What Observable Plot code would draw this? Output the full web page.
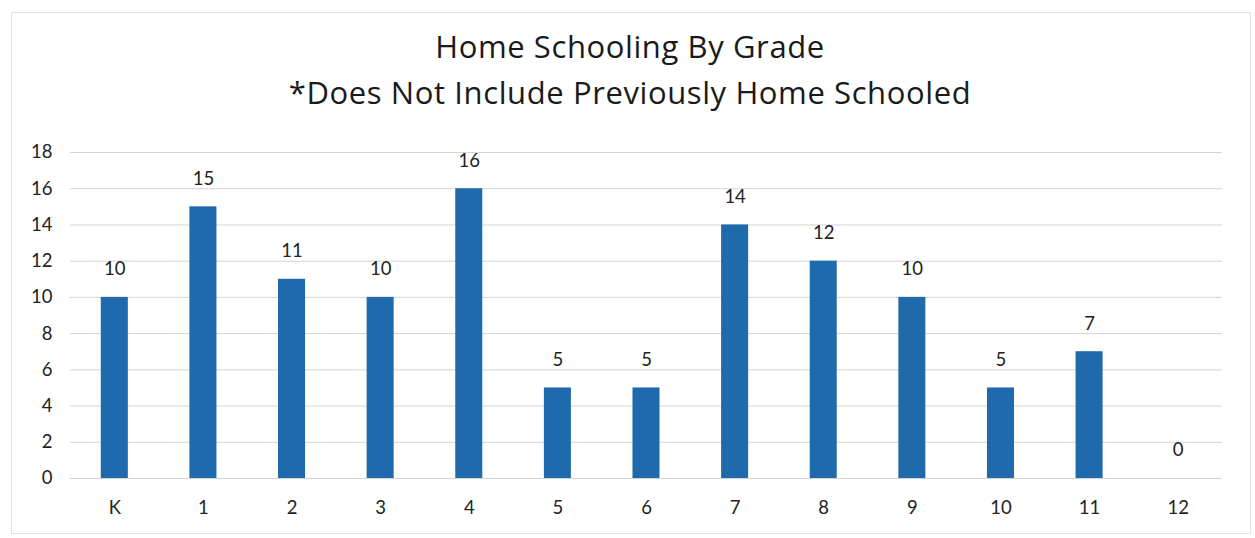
<!DOCTYPE html>
<html>
<head>
<meta charset="utf-8">
<script src="https://cdn.jsdelivr.net/npm/d3@7"></script>
<script src="https://cdn.jsdelivr.net/npm/@observablehq/plot@0.6"></script>
<style>
  html, body { margin: 0; padding: 0; background: #fff; }
  #wrap { position: relative; width: 1255px; height: 538px; overflow: hidden; font-family: Lato, "Open Sans", sans-serif; }
  #frame { position: absolute; left: 11px; top: 12px; width: 1240px; height: 522px; border: 1px solid #e2e2e2; box-sizing: border-box; }
  #title { position: absolute; left: 0; top: 23px; width: 1260px; text-align: center; font-family: "Open Sans", sans-serif; font-size: 31px; letter-spacing: 0.6px; line-height: 46px; color: #1a1a1a; }
  #chart { position: absolute; left: 0; top: 125px; }
</style>
</head>
<body>
<div id="wrap">
  <div id="frame"></div>
  <div id="title">Home Schooling By Grade<br>*Does Not Include Previously Home Schooled</div>
  <div id="chart"></div>
</div>
<script>
const grades = ["K", "1", "2", "3", "4", "5", "6", "7", "8", "9", "10", "11", "12"];
const counts = [10, 15, 11, 10, 16, 5, 5, 14, 12, 10, 5, 7, 0];
const yTicks = [0, 2, 4, 6, 8, 10, 12, 14, 16, 18];

const data = grades.map((g, i) => ({grade: g, count: counts[i]}));

const chart = Plot.plot({
  width: 1255,
  height: 413,
  marginLeft: 70,
  marginRight: 33,
  marginTop: 27,
  marginBottom: 60,
  style: {fontFamily: "Lato, 'Open Sans', sans-serif", fontSize: "18.5px", color: "#222", background: "transparent"},
  x: {domain: grades, paddingInner: 0.695, paddingOuter: 0.3475, round: false, label: null, tickSize: 0, tickPadding: 22},
  y: {domain: [0, 18], ticks: yTicks, label: null, tickSize: 0, tickPadding: 18},
  marks: [
    Plot.gridY(yTicks, {stroke: "#d4d4d4", strokeOpacity: 1, strokeWidth: 1}),
    Plot.barY(data, {x: "grade", y: "count", fill: "#1f6aac"}),
    Plot.text(data, {x: "grade", y: "count", text: d => String(d.count), dy: -28, fill: "#222", fontSize: 18.5})
  ]
});
document.getElementById("chart").appendChild(chart);
</script>
</body>
</html>
